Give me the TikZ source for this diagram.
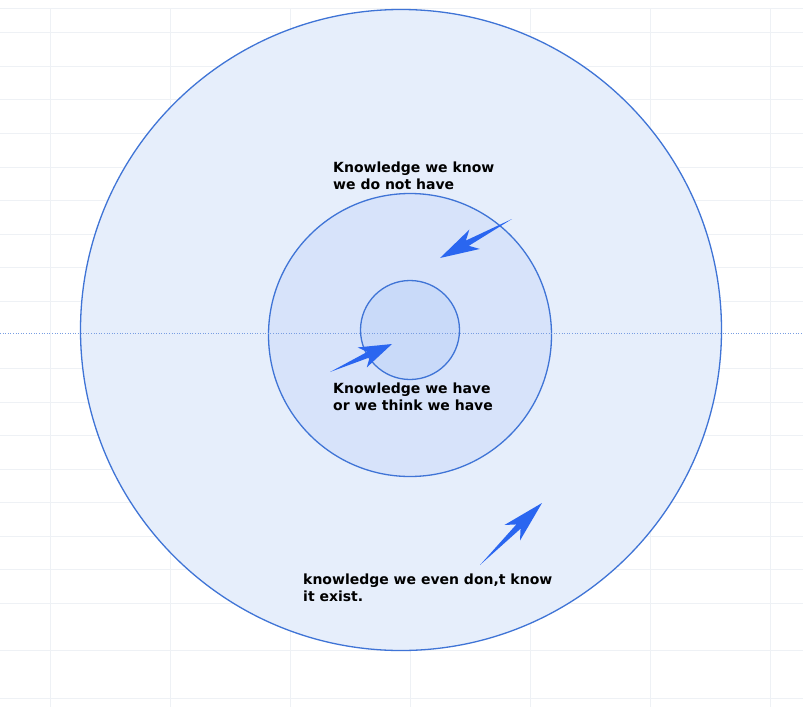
\documentclass[tikz,border=0pt]{standalone}
\usepackage{fontspec}
\setmainfont{DejaVu Sans}
\usetikzlibrary{calc}
\definecolor{ring}{HTML}{3F74D6}
\definecolor{fillA}{HTML}{E6EEFB}
\definecolor{fillB}{HTML}{D7E3FA}
\definecolor{fillC}{HTML}{C9DAF9}
\definecolor{grid}{HTML}{EEF1F5}
\definecolor{arr}{HTML}{2A66F0}
\tikzset{
  circ/.style={draw=ring, line width=1.3pt},
  lbl/.style={font=\bfseries\fontsize{14}{17}\selectfont, align=left, anchor=north west, inner sep=0pt, text=black},
}
\newcommand{\fatarrow}[2]{%
  \fill[arr] (#1) -- ($(#1)!0.62!(#2)!3pt!90:(#2)$) -- ($(#1)!0.52!(#2)!11pt!90:(#2)$) -- (#2)
   -- ($(#1)!0.52!(#2)!11pt!-90:(#2)$) -- ($(#1)!0.62!(#2)!3pt!-90:(#2)$) -- cycle;}
\begin{document}
\begin{tikzpicture}[x=1pt,y=-1pt]
\useasboundingbox (0,0) rectangle (803,707);
\fill[white] (0,0) rectangle (803,707);
\foreach \x in {50,170,290,410,530,650,770} \draw[grid, line width=0.6pt] (\x,8) -- (\x,707);
\foreach \y in {8,32,66,99,133,167,200,234,267,301,368,402,435,469,502,536,569,603,650,698} \draw[grid, line width=0.6pt] (0,\y) -- (803,\y);
\node[circ, circle, fill=fillA, minimum size=641pt, inner sep=0pt] (outer) at (401,330) {};
\node[circ, circle, fill=fillB, minimum size=283pt, inner sep=0pt] (mid) at (410,335) {};
\node[circ, circle, fill=fillC, minimum size=99pt, inner sep=0pt] (inner) at (410,330) {};
\draw[ring!70, dotted, line width=0.6pt] (0,333) -- (803,333);
\node[lbl] (t1) at (333,162) {Knowledge we know\\we do not have};
\node[lbl] (t2) at (333,383) {Knowledge we have\\or we think we have};
\node[lbl] (t3) at (303,574) {knowledge we even don,t know\\it exist.};
\coordinate (a1s) at (512,219); \coordinate (a1e) at (440,258);
\coordinate (a2s) at (330,372); \coordinate (a2e) at (392,344);
\coordinate (a3s) at (480,565); \coordinate (a3e) at (542,503);
\fatarrow{a1s}{a1e}
\fatarrow{a2s}{a2e}
\fatarrow{a3s}{a3e}
\end{tikzpicture}
\end{document}
